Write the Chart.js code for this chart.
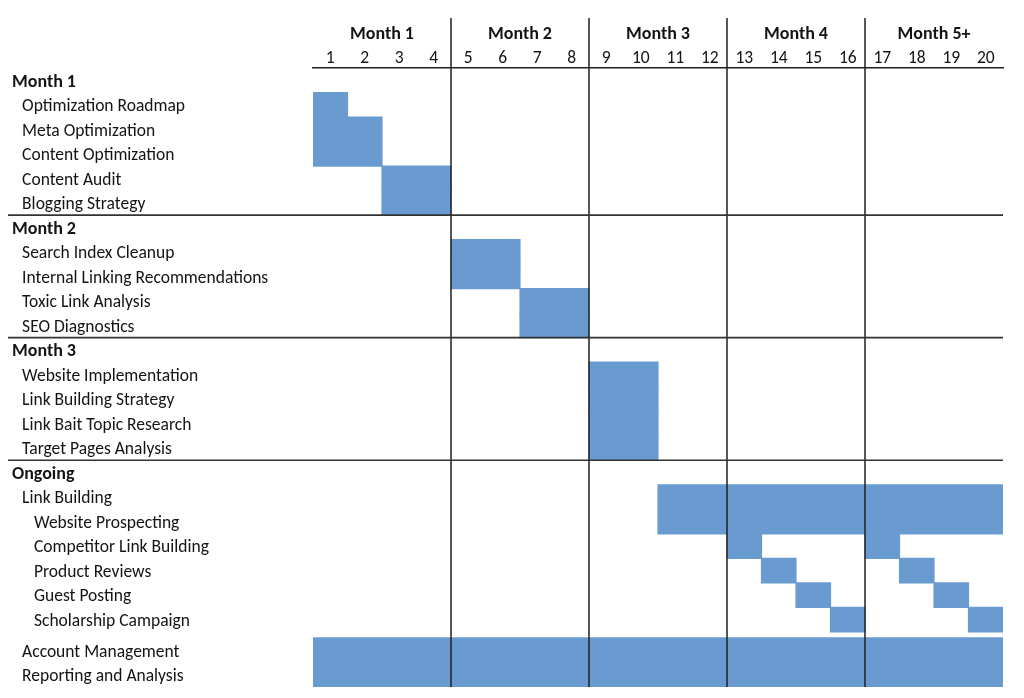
<!DOCTYPE html>
<html>
<head>
<meta charset="utf-8">
<script src="https://cdn.jsdelivr.net/npm/chart.js@4"></script>
<style>
html,body{margin:0;padding:0;background:#ffffff;}
#wrap{width:1024px;height:698px;}
</style>
</head>
<body>
<div id="wrap"><canvas id="c" width="1024" height="698"></canvas></div>
<script>
// ---- data ----
const rowLabels = [
  'Month 1',
  'Optimization Roadmap', 'Meta Optimization', 'Content Optimization', 'Content Audit', 'Blogging Strategy',
  'Month 2',
  'Search Index Cleanup', 'Internal Linking Recommendations', 'Toxic Link Analysis', 'SEO Diagnostics',
  'Month 3',
  'Website Implementation', 'Link Building Strategy', 'Link Bait Topic Research', 'Target Pages Analysis',
  'Ongoing',
  'Link Building', 'Website Prospecting', 'Competitor Link Building', 'Product Reviews', 'Guest Posting', 'Scholarship Campaign',
  'Account Management', 'Reporting and Analysis'
];
const rowLevels = [0, 1,1,1,1,1, 0, 1,1,1,1, 0, 1,1,1,1, 0, 1,2,2,2,2,2, 1,1];
const weekLabels = ['1','2','3','4','5','6','7','8','9','10','11','12','13','14','15','16','17','18','19','20'];
const monthLabels = ['Month 1','Month 2','Month 3','Month 4','Month 5+'];
const weeksPerMonth = 4;

const barTasks = [
  'Optimization Roadmap', 'Meta Optimization', 'Content Optimization', 'Content Audit', 'Blogging Strategy',
  'Search Index Cleanup', 'Internal Linking Recommendations', 'Toxic Link Analysis', 'SEO Diagnostics',
  'Website Implementation', 'Link Building Strategy', 'Link Bait Topic Research', 'Target Pages Analysis',
  'Link Building', 'Website Prospecting',
  'Competitor Link Building', 'Competitor Link Building',
  'Product Reviews', 'Product Reviews',
  'Guest Posting', 'Guest Posting',
  'Scholarship Campaign', 'Scholarship Campaign',
  'Account Management', 'Reporting and Analysis'
];
const barStartWeeks = [1,1,1,3,3, 5,5,7,7, 9,9,9,9, 11,11, 13,17, 14,18, 15,19, 16,20, 1,1];
const barEndWeeks   = [1,2,2,4,4, 6,6,8,8, 10,10,10,10, 20,20, 13,17, 14,18, 15,19, 16,20, 20,20];

// ---- style / layout ----
const FONT = 'Carlito, Calibri, Lato, sans-serif';
const FSIZE = 17.5;
const TEXT = '#141414';
const BAR = '#6a9bd0';
const rowGap = 0.25;
const gapBefore = rowLabels.indexOf('Account Management');
const rowPos = rowLabels.map((_, i) => i + (i >= gapBefore ? rowGap : 0));

const mctx = document.createElement('canvas').getContext('2d');
mctx.font = FSIZE + 'px ' + FONT;
const spaceW = mctx.measureText(' ').width || 4;
const hairW = mctx.measureText('\u200A').width || 1;
const indent = lvl => {
  const target = lvl * 11;
  const n = Math.floor(target / spaceW);
  const rest = target - n * spaceW;
  return ' '.repeat(n) + '\u200A'.repeat(Math.max(0, Math.round(rest / hairW)));
};

const barData = barTasks.map((t, k) => ({
  x: [barStartWeeks[k] - 1, barEndWeeks[k]],
  y: rowPos[rowLabels.indexOf(t)]
}));

const gridLines = {
  id: 'gridLines',
  afterDatasetsDraw(chart) {
    const {ctx, chartArea, scales} = chart;
    const x = scales.x, x2 = scales.x2, y = scales.y;
    ctx.save();
    ctx.lineCap = 'butt';
    ctx.strokeStyle = '#1f1f1f';
    ctx.lineWidth = 1.5;
    for (let m = 1; m < monthLabels.length; m++) {
      const px = x.getPixelForValue(m * weeksPerMonth);
      ctx.beginPath();
      ctx.moveTo(px, x2.top);
      ctx.lineTo(px, chartArea.bottom);
      ctx.stroke();
    }
    ctx.strokeStyle = '#333333';
    ctx.lineWidth = 1.6;
    rowLevels.forEach((lvl, i) => {
      if (lvl === 0 && i > 0) {
        const py = y.getPixelForValue(rowPos[i] - 0.5);
        ctx.beginPath();
        ctx.moveTo(y.left - 4, py);
        ctx.lineTo(chartArea.right, py);
        ctx.stroke();
      }
    });
    ctx.restore();
  }
};

new Chart(document.getElementById('c'), {
  type: 'bar',
  data: {
    datasets: [{
      data: barData,
      backgroundColor: BAR,
      borderWidth: 0,
      inflateAmount: 0.6,
      barPercentage: 1,
      categoryPercentage: 1
    }]
  },
  options: {
    indexAxis: 'y',
    responsive: false,
    animation: false,
    layout: {padding: {left: 12, right: 21, top: 18, bottom: 11}},
    plugins: {legend: {display: false}, tooltip: {enabled: false}},
    scales: {
      y: {
        type: 'linear',
        reverse: true,
        offset: false,
        min: -0.5,
        max: rowPos[rowPos.length - 1] + 0.5,
        afterBuildTicks: s => { s.ticks = rowPos.map(v => ({value: v})); },
        afterFit: s => { s.width = 301; },
        grid: {display: false, drawTicks: false},
        border: {display: false},
        ticks: {
          autoSkip: false,
          crossAlign: 'far',
          padding: 0,
          labelOffset: 2,
          color: TEXT,
          font: ctx => ({family: FONT, size: rowLevels[ctx.index] === 0 ? 18 : FSIZE, weight: rowLevels[ctx.index] === 0 ? 'bold' : 'normal'}),
          callback: (v, i) => indent(rowLevels[i]) + rowLabels[i]
        }
      },
      x: {
        type: 'linear',
        position: 'top',
        weight: 0,
        offset: false,
        min: 0,
        max: weekLabels.length,
        afterBuildTicks: s => { s.ticks = weekLabels.map((_, i) => ({value: i + 0.5})); },
        afterFit: s => { s.height = 21; },
        grid: {display: false, drawTicks: false},
        border: {display: true, color: '#1f1f1f', width: 1.5},
        ticks: {
          autoSkip: false, maxRotation: 0, padding: -1, color: TEXT,
          font: {family: FONT, size: FSIZE},
          callback: (v, i) => weekLabels[i]
        }
      },
      x2: {
        type: 'linear',
        position: 'top',
        weight: 1,
        offset: false,
        min: 0,
        max: weekLabels.length,
        afterBuildTicks: s => { s.ticks = monthLabels.map((_, i) => ({value: i * weeksPerMonth + weeksPerMonth / 2})); },
        afterFit: s => { s.height = 29; },
        grid: {display: false, drawTicks: false},
        border: {display: false},
        ticks: {
          autoSkip: false, maxRotation: 0, padding: 2, color: TEXT,
          font: {family: FONT, size: 18, weight: 'bold'},
          callback: (v, i) => monthLabels[i]
        }
      }
    }
  },
  plugins: [gridLines]
});
</script>
</body>
</html>
